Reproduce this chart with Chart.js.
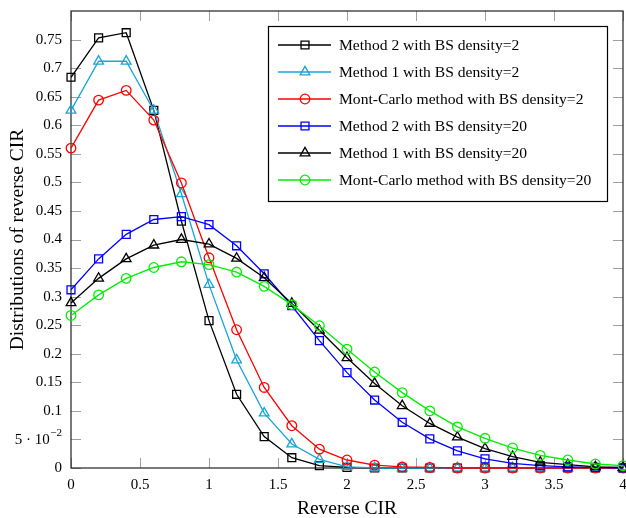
<!DOCTYPE html>
<html>
<head>
<meta charset="utf-8">
<script src="https://cdn.jsdelivr.net/npm/chart.js@4.4.1/dist/chart.umd.min.js"></script>
<style>
html,body{margin:0;padding:0;background:#fff;}
canvas{display:block;}
</style>
</head>
<body>
<canvas id="c" width="626" height="518"></canvas>
<script>
const xValues = [0, 0.2, 0.4, 0.6, 0.8, 1.0, 1.2, 1.4, 1.6, 1.8, 2.0, 2.2, 2.4, 2.6, 2.8, 3.0, 3.2, 3.4, 3.6, 3.8, 4.0];

const method2Bs2   = [0.684, 0.753, 0.762, 0.626, 0.432, 0.258, 0.129, 0.055, 0.018, 0.004, 0.001, 0, 0, 0, 0, 0, 0, 0, 0, 0, 0];
const method1Bs2   = [0.626, 0.712, 0.712, 0.626, 0.480, 0.321, 0.189, 0.096, 0.042, 0.015, 0.002, 0, 0, 0, 0, 0, 0, 0, 0, 0, 0];
const monteCarloBs2 = [0.560, 0.644, 0.661, 0.609, 0.499, 0.368, 0.242, 0.141, 0.074, 0.033, 0.014, 0.005, 0.002, 0.001, 0, 0, 0, 0, 0, 0, 0];
const method2Bs20  = [0.312, 0.366, 0.409, 0.435, 0.440, 0.426, 0.389, 0.340, 0.284, 0.223, 0.167, 0.119, 0.080, 0.051, 0.030, 0.016, 0.008, 0.004, 0.002, 0.001, 0];
const method1Bs20  = [0.289, 0.332, 0.366, 0.390, 0.400, 0.392, 0.367, 0.333, 0.288, 0.241, 0.193, 0.148, 0.109, 0.078, 0.054, 0.034, 0.020, 0.010, 0.006, 0.002, 0.001];
const monteCarloBs20 = [0.267, 0.303, 0.332, 0.351, 0.361, 0.356, 0.343, 0.318, 0.286, 0.249, 0.208, 0.168, 0.132, 0.100, 0.072, 0.052, 0.035, 0.022, 0.014, 0.007, 0.004];

const seriesLabels = [
  'Method 2 with BS density=2',
  'Method 1 with BS density=2',
  'Mont-Carlo method with BS density=2',
  'Method 2 with BS density=20',
  'Method 1 with BS density=20',
  'Mont-Carlo method with BS density=20'
];

const xTickValues = [0, 0.5, 1, 1.5, 2, 2.5, 3, 3.5, 4];
const xTickLabels = ['0', '0.5', '1', '1.5', '2', '2.5', '3', '3.5', '4'];
const yTickValues = [0, 0.05, 0.1, 0.15, 0.2, 0.25, 0.3, 0.35, 0.4, 0.45, 0.5, 0.55, 0.6, 0.65, 0.7, 0.75];
const yTickLabels = ['0', '', '0.1', '0.15', '0.2', '0.25', '0.3', '0.35', '0.4', '0.45', '0.5', '0.55', '0.6', '0.65', '0.7', '0.75'];
// the 0.05 tick is written in scientific notation: 5 · 10^−2
const yTickSci = {value: 0.05, base: '5 · 10', exp: '−2'};

const FONT = "'Liberation Serif', 'Times New Roman', serif";

const styles = [
  {color: '#000000', pointStyle: 'rect', radius: 5.6},
  {color: '#1aa3d6', pointStyle: 'triangle', radius: 5.6},
  {color: '#ff0000', pointStyle: 'circle', radius: 4.8},
  {color: '#0000ff', pointStyle: 'rect', radius: 5.6},
  {color: '#000000', pointStyle: 'triangle', radius: 5.6},
  {color: '#00ee00', pointStyle: 'circle', radius: 4.8}
];

const allSeries = [method2Bs2, method1Bs2, monteCarloBs2, method2Bs20, method1Bs20, monteCarloBs20];

const datasets = allSeries.map((vals, i) => ({
  label: seriesLabels[i],
  data: vals.map((v, k) => ({x: xValues[k], y: v})),
  borderColor: styles[i].color,
  backgroundColor: 'rgba(0,0,0,0)',
  pointBorderColor: styles[i].color,
  pointBackgroundColor: 'rgba(0,0,0,0)',
  pointStyle: styles[i].pointStyle,
  pointRadius: styles[i].radius,
  pointBorderWidth: 1.3,
  borderWidth: 1.3,
  tension: 0,
  fill: false,
  clip: false,
  order: allSeries.length - i
}));

const frameTicksPlugin = {
  id: 'frameTicks',
  beforeDatasetsDraw(chart) {
    const {ctx, chartArea: a, scales} = chart;
    const tl = 10;
    ctx.save();
    ctx.strokeStyle = '#a0a0a0';
    ctx.lineWidth = 1;
    ctx.beginPath();
    scales.x.ticks.forEach(t => {
      const px = Math.round(scales.x.getPixelForValue(t.value)) + 0.5;
      ctx.moveTo(px, a.bottom); ctx.lineTo(px, a.bottom - tl);
      ctx.moveTo(px, a.top); ctx.lineTo(px, a.top + tl);
    });
    scales.y.ticks.forEach(t => {
      const py = Math.round(scales.y.getPixelForValue(t.value)) + 0.5;
      ctx.moveTo(a.left, py); ctx.lineTo(a.left + tl, py);
      ctx.moveTo(a.right, py); ctx.lineTo(a.right - tl, py);
    });
    ctx.stroke();
    ctx.strokeStyle = '#222';
    ctx.lineWidth = 1.2;
    ctx.strokeRect(a.left, a.top, a.right - a.left, a.bottom - a.top);

    // scientific-notation tick label
    const py = scales.y.getPixelForValue(yTickSci.value);
    const rightX = a.left - 9;
    ctx.fillStyle = '#000';
    ctx.textBaseline = 'middle';
    ctx.textAlign = 'right';
    ctx.font = '11px ' + FONT;
    const expW = ctx.measureText(yTickSci.exp).width;
    ctx.fillText(yTickSci.exp, rightX, py - 6);
    ctx.font = '15px ' + FONT;
    ctx.fillText(yTickSci.base, rightX - expW - 0.5, py + 1);
    ctx.restore();
  }
};

function drawMarker(ctx, style, x, y, r, color) {
  ctx.save();
  ctx.strokeStyle = color;
  ctx.fillStyle = 'rgba(0,0,0,0)';
  ctx.lineWidth = 1.3;
  if (Chart.helpers && Chart.helpers.drawPoint) {
    Chart.helpers.drawPoint(ctx, {pointStyle: style, radius: r, rotation: 0, borderWidth: 1.3}, x, y);
  } else {
    ctx.beginPath();
    if (style === 'rect') { const s = r * Math.SQRT1_2; ctx.rect(x - s, y - s, 2 * s, 2 * s); }
    else if (style === 'circle') { ctx.arc(x, y, r, 0, Math.PI * 2); }
    else {
      ctx.moveTo(x, y - r);
      ctx.lineTo(x + r * Math.sin(2 * Math.PI / 3), y - r * Math.cos(2 * Math.PI / 3));
      ctx.lineTo(x + r * Math.sin(4 * Math.PI / 3), y - r * Math.cos(4 * Math.PI / 3));
      ctx.closePath();
    }
    ctx.stroke();
  }
  ctx.restore();
}

const legendPlugin = {
  id: 'boxLegend',
  afterDatasetsDraw(chart) {
    const {ctx} = chart;
    const bx = 268, by = 26, bw = 339, bh = 175;
    ctx.save();
    ctx.fillStyle = '#fff';
    ctx.fillRect(bx, by, bw, bh);
    ctx.strokeStyle = '#000';
    ctx.lineWidth = 1.2;
    ctx.strokeRect(bx + 0.5, by + 0.5, bw, bh);
    ctx.font = '15.6px ' + FONT;
    ctx.textBaseline = 'middle';
    ctx.textAlign = 'left';
    chart.data.datasets.forEach((ds, i) => {
      const y = 45 + i * 27;
      ctx.strokeStyle = ds.borderColor;
      ctx.lineWidth = 1.3;
      ctx.beginPath();
      ctx.moveTo(278, y); ctx.lineTo(331, y);
      ctx.stroke();
      drawMarker(ctx, ds.pointStyle, 305, y, ds.pointRadius, ds.borderColor);
      ctx.fillStyle = '#000';
      ctx.fillText(ds.label, 339, y + 1);
    });
    ctx.restore();
  }
};

new Chart(document.getElementById('c'), {
  type: 'line',
  data: {datasets},
  plugins: [frameTicksPlugin, legendPlugin],
  options: {
    responsive: false,
    animation: false,
    layout: {autoPadding: false, padding: {left: 0, right: 3, top: 11, bottom: 0}},
    plugins: {legend: {display: false}, tooltip: {enabled: false}},
    scales: {
      x: {
        type: 'linear',
        min: 0, max: 4,
        afterBuildTicks: s => { s.ticks = xTickValues.map(v => ({value: v})); },
        afterFit: s => { s.height = 50; s.paddingLeft = 0; s.paddingRight = 0; },
        grid: {display: false, drawTicks: false},
        border: {display: false},
        ticks: {
          autoSkip: false, maxRotation: 0, padding: 8, color: '#000',
          font: {family: FONT, size: 15},
          callback: (v) => { const k = xTickValues.indexOf(v); return k >= 0 ? xTickLabels[k] : ''; }
        },
        title: {display: true, text: 'Reverse CIR', color: '#000', font: {family: FONT, size: 19.5}, padding: {top: 0, bottom: -3}}
      },
      y: {
        type: 'linear',
        min: 0, max: 0.8,
        afterBuildTicks: s => { s.ticks = yTickValues.map(v => ({value: v})); },
        afterFit: s => { s.width = 71; s.paddingTop = 0; s.paddingBottom = 0; },
        grid: {display: false, drawTicks: false},
        border: {display: false},
        ticks: {
          autoSkip: false, padding: 9, color: '#000',
          font: {family: FONT, size: 15},
          callback: (v) => { const k = yTickValues.findIndex(t => Math.abs(t - v) < 1e-9); return k >= 0 ? yTickLabels[k] : ''; }
        },
        title: {display: true, text: 'Distributions of reverse CIR', color: '#000', font: {family: FONT, size: 19.5}, padding: {top: 6, bottom: 0}}
      }
    }
  }
});
</script>
</body>
</html>
